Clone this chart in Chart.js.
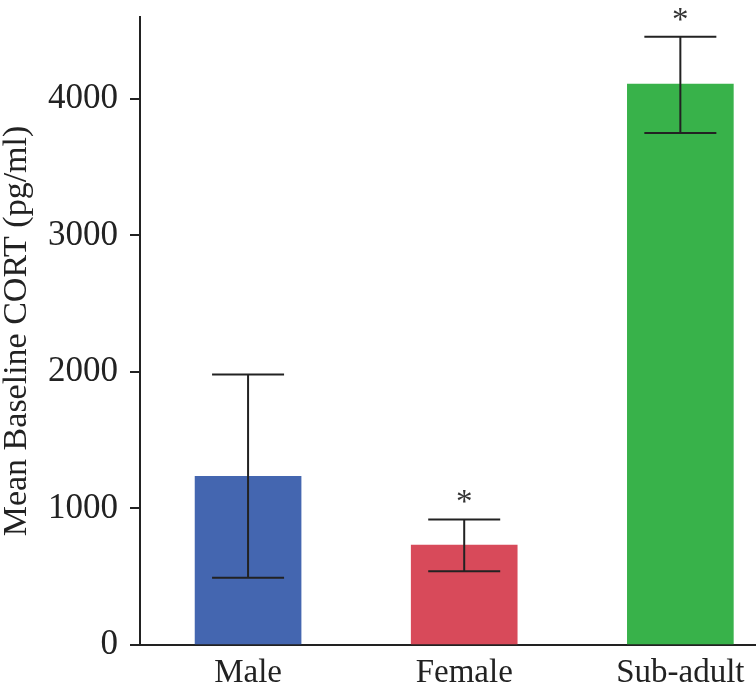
<!DOCTYPE html>
<html>
<head>
<meta charset="utf-8">
<script src="https://cdn.jsdelivr.net/npm/chart.js@4.4.1/dist/chart.umd.min.js"></script>
<style>
  html, body { margin: 0; padding: 0; background: #fff; }
  #wrap { width: 756px; height: 690px; }
</style>
</head>
<body>
<div id="wrap"><canvas id="myChart"></canvas></div>
<script>
const categories = ["Male", "Female", "Sub-adult"];
const meanCort = [1236, 732, 4109];
const errLow = [492, 541, 3750];
const errHigh = [1982, 920, 4455];
const sigMarks = ["", "*", "*"];
const barColors = ["#4466B0", "#D84A5A", "#38B24A"];
const yTicks = [0, 1000, 2000, 3000, 4000];

const ink = "#222";
const serif = "'Liberation Serif', 'Times New Roman', serif";

// error bars + significance stars
const errorBars = {
    id: "errorBars",
    afterDatasetsDraw(chart) {
        const c = chart.ctx;
        const xs = chart.scales.x;
        const ys = chart.scales.y;
        c.save();
        c.strokeStyle = ink;
        c.lineWidth = 2;
        for (let i = 0; i < categories.length; i++) {
            const x = xs.getPixelForValue(i);
            const yHi = ys.getPixelForValue(errHigh[i]);
            const yLo = ys.getPixelForValue(errLow[i]);
            c.beginPath();
            c.moveTo(x, yHi);
            c.lineTo(x, yLo);
            c.moveTo(x - 36, yHi);
            c.lineTo(x + 36, yHi);
            c.moveTo(x - 36, yLo);
            c.lineTo(x + 36, yLo);
            c.stroke();
            if (sigMarks[i]) {
                c.fillStyle = "#333";
                c.font = "33px " + serif;
                c.textAlign = "center";
                c.textBaseline = "alphabetic";
                c.fillText(sigMarks[i], x, yHi - 7);
            }
        }
        c.restore();
    },
};

const ctx = document.getElementById("myChart");

const chart = new Chart(ctx, {
    type: "bar",
    data: {
        datasets: [
            {
                data: meanCort.map((v, i) => ({ x: i, y: v })),
                backgroundColor: barColors,
                borderWidth: 0,
                barThickness: 106,
            },
        ],
    },
    options: {
        responsive: true,
        maintainAspectRatio: false,
        animation: false,
        layout: {
            padding: { top: 17, right: 0, bottom: 0, left: 0 },
        },
        plugins: {
            legend: { display: false },
            tooltip: { enabled: false },
        },
        scales: {
            x: {
                type: "linear",
                offset: false,
                min: -0.5,
                max: 2.35,
                grid: { display: false, offset: false },
                border: { display: true, color: ink, width: 2 },
                afterBuildTicks: (s) => {
                    s.ticks = categories.map((c, i) => ({ value: i }));
                },
                ticks: {
                    callback: (v) => categories[v] ?? "",
                    color: ink,
                    padding: 1,
                    maxRotation: 0,
                    autoSkip: false,
                    font: { family: serif, size: 33 },
                },
                afterFit: (s) => {
                    s.height = 45;
                    s.paddingLeft = 0;
                    s.paddingRight = 0;
                },
            },
            y: {
                min: 0,
                max: 4600,
                afterBuildTicks: (s) => {
                    s.ticks = yTicks.map((v) => ({ value: v }));
                },
                grid: {
                    drawOnChartArea: false,
                    drawTicks: true,
                    tickLength: 10,
                    color: ink,
                    lineWidth: 2,
                },
                border: { display: true, color: ink, width: 2 },
                ticks: {
                    callback: (v) => String(v),
                    color: ink,
                    padding: 12,
                    font: { family: serif, size: 35 },
                },
                title: {
                    display: true,
                    text: "Mean Baseline CORT (pg/ml)",
                    color: ink,
                    padding: { top: 0, bottom: 18 },
                    font: { family: serif, size: 34, lineHeight: 1.0 },
                },
                afterFit: (s) => {
                    s.width = 140;
                    s.paddingTop = 0;
                    s.paddingBottom = 0;
                },
            },
        },
    },
    plugins: [errorBars],
});
</script>
</body>
</html>
